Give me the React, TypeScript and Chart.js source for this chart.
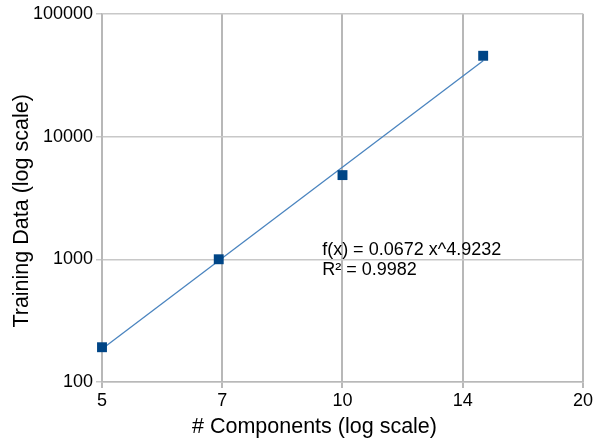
import React, { useEffect, useRef } from "react";
import { Chart, registerables } from "chart.js";

Chart.register(...registerables);

const components = [5, 7, 10, 15];
const trainingData = [192, 1000, 4850, 45500];
const xTickValues = [5, 7.0711, 10, 14.1421, 20];
const yTickValues = [100, 1000, 10000, 100000];
const trendA = 0.0672;
const trendB = 4.9232;
const trendRange = [5, 15];
const trendLabelLines = ["f(x) = 0.0672 x^4.9232", "R² = 0.9982"];
const trendLabelPos = { x: 9.43, y: 1078 };
const xTitle = "# Components (log scale)";
const yTitle = "Training Data (log scale)";

const FONT = "'Liberation Sans', Arial, sans-serif";

export default function App() {
  const ref = useRef<HTMLCanvasElement>(null);
  useEffect(() => {
    if (!ref.current) return;
    const trendPoints = trendRange.map((x) => ({ x, y: trendA * Math.pow(x, trendB) }));
    const annot = {
      id: "trendAnnot",
      afterDatasetsDraw(chart: any) {
        const { ctx, scales, chartArea } = chart;
        const px = scales.x.getPixelForValue(trendLabelPos.x);
        const py = scales.y.getPixelForValue(trendLabelPos.y);
        ctx.save();
        ctx.fillStyle = "#000";
        ctx.font = `18px ${FONT}`;
        ctx.textAlign = "left";
        ctx.textBaseline = "alphabetic";
        trendLabelLines.forEach((t, i) => ctx.fillText(t, px, py + i * 20));
        // axis titles
        ctx.font = `21.5px ${FONT}`;
        ctx.textAlign = "center";
        ctx.textBaseline = "middle";
        const cx = (chartArea.left + chartArea.right) / 2 - 28;
        ctx.fillText(xTitle, cx, chartArea.bottom + 45);
        const cy = (chartArea.top + chartArea.bottom) / 2 + 13;
        ctx.translate(chartArea.left - 80, cy);
        ctx.rotate(-Math.PI / 2);
        ctx.fillText(yTitle, 0, 0);
        ctx.restore();
      },
    };
    const chart = new Chart(ref.current, {
      type: "scatter",
      data: {
        datasets: [
          {
            label: "Training Data",
            data: components.map((x, i) => ({ x, y: trainingData[i] })),
            pointStyle: "rect",
            pointRadius: 7,
            backgroundColor: "#004586",
            borderColor: "#004586",
            borderWidth: 0,
            showLine: false,
            clip: false,
          },
          {
            label: "Trend",
            data: trendPoints,
            showLine: true,
            pointRadius: 0,
            borderColor: "#4a84bf",
            borderWidth: 1.3,
            clip: false,
          },
        ],
      },
      options: {
        animation: false,
        responsive: false,
        layout: { padding: { top: 13, right: 12, left: 0, bottom: 0 } },
        plugins: { legend: { display: false }, tooltip: { enabled: false } },
        scales: {
          x: {
            type: "logarithmic",
            min: 5,
            max: 20,
            afterBuildTicks: (scale: any) => {
              scale.ticks = xTickValues.map((v) => ({ value: v }));
            },
            afterFit: (scale: any) => {
              scale.height = 63;
            },
            ticks: {
              autoSkip: false,
              maxRotation: 0,
              color: "#000",
              font: { family: FONT, size: 18 },
              padding: 2,
              callback: (v: any) => String(Math.round(Number(v))),
            },
            grid: { color: "#b8b8b8", lineWidth: 2, tickLength: 6, drawTicks: true },
            border: { color: "#b8b8b8", width: 1.5 },
            title: { display: false },
          },
          y: {
            type: "logarithmic",
            min: 100,
            max: 100000,
            afterBuildTicks: (scale: any) => {
              scale.ticks = yTickValues.map((v) => ({ value: v }));
            },
            afterFit: (scale: any) => {
              scale.width = 102;
            },
            ticks: {
              autoSkip: false,
              color: "#000",
              font: { family: FONT, size: 18 },
              padding: 3,
              callback: (v: any) => String(v),
            },
            grid: { color: "#c8c8c8", lineWidth: 1.5, tickLength: 6 },
            border: { color: "#b8b8b8", width: 1.5 },
            title: { display: false },
          },
        },
      },
      plugins: [annot],
    } as any);
    return () => chart.destroy();
  }, []);
  return (
    <div style={{ position: "fixed", left: 0, top: 0, width: 595, height: 445, background: "#fff" }}>
      <canvas ref={ref} width={595} height={445} />
    </div>
  );
}
